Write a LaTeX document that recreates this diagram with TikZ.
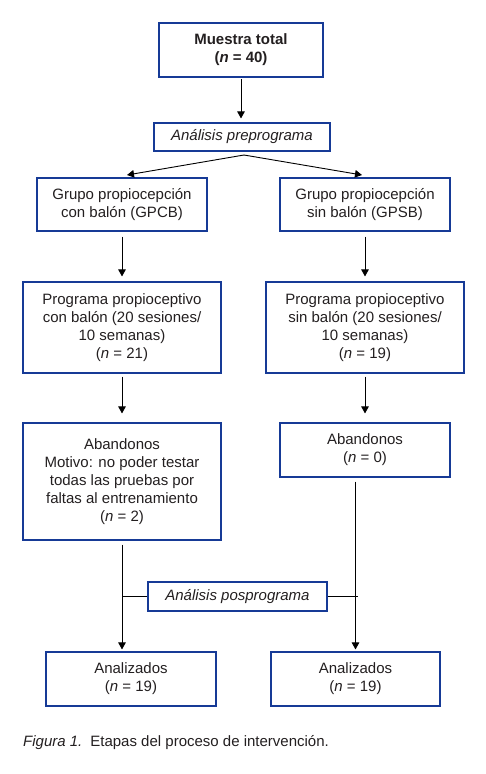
\documentclass[tikz,border=0pt]{standalone}
\usepackage{fontspec}
\setmainfont{Liberation Sans}
\usetikzlibrary{arrows.meta}
\definecolor{boxblue}{RGB}{22,58,150}
\definecolor{txt}{RGB}{35,31,32}
\begin{document}
\begin{tikzpicture}[x=1pt,y=-1pt,
  box/.style={draw=boxblue,line width=1.1pt,inner sep=0pt,align=center,text=txt,
    font=\fontsize{15}{18}\selectfont},
  arr/.style={-{Triangle[length=7pt,width=7.5pt]},line width=0.9pt,draw=black},
  ln/.style={line width=0.9pt,draw=black}]
\useasboundingbox (0,0) rectangle (486,774);
\node[box,minimum width=164pt,minimum height=54pt] (top) at (241,50) {\textbf{Muestra total}\\\textbf{(\textit{n} = 40)}};
\node[box,minimum width=176pt,minimum height=28pt] (pre) at (242,137) {\textit{Análisis preprograma}};
\node[box,minimum width=170pt,minimum height=53pt] (gpcb) at (122,204.5) {Grupo propiocepción\\con balón (GPCB)};
\node[box,minimum width=170pt,minimum height=53pt] (gpsb) at (365,204.5) {Grupo propiocepción\\sin balón (GPSB)};
\node[box,minimum width=198pt,minimum height=91pt] (progL) at (122,327.5) {Programa propioceptivo\\con balón (20 sesiones/\\10 semanas)\\(\textit{n} = 21)};
\node[box,minimum width=198pt,minimum height=91pt] (progR) at (365,327.5) {Programa propioceptivo\\sin balón (20 sesiones/\\10 semanas)\\(\textit{n} = 19)};
\node[box,minimum width=198pt,minimum height=117pt] (abL) at (122,481.5) {Abandonos\\Motivo: no poder testar\\todas las pruebas por\\faltas al entrenamiento\\(\textit{n} = 2)};
\node[box,minimum width=170pt,minimum height=54pt] (abR) at (365,450) {Abandonos\\(\textit{n} = 0)};
\node[box,minimum width=179pt,minimum height=29pt] (pos) at (237.5,596.5) {\textit{Análisis posprograma}};
\node[box,minimum width=170pt,minimum height=54pt] (anL) at (131,679) {Analizados\\(\textit{n} = 19)};
\node[box,minimum width=169pt,minimum height=54pt] (anR) at (355.5,679) {Analizados\\(\textit{n} = 19)};
% connectors
\draw[arr,shorten <=1.5pt,shorten >=4pt] (top.south) -- (top.south |- pre.north);
\coordinate (apex) at (244,155);
\coordinate (tipL) at (127,175);
\coordinate (tipR) at (362,175);
\draw[arr] (apex) -- (tipL);
\draw[arr] (apex) -- (tipR);
\draw[arr,shorten <=5pt,shorten >=5pt] (gpcb.south) -- (gpcb.south |- progL.north);
\draw[arr,shorten <=5pt,shorten >=5pt] (gpsb.south) -- (gpsb.south |- progR.north);
\draw[arr,shorten <=3pt,shorten >=9pt] (progL.south) -- (progL.south |- abL.north);
\draw[arr,shorten <=3pt,shorten >=9pt] (progR.south) -- (progR.south |- abR.north);
\draw[arr,shorten <=4pt,shorten >=2pt] (abL.south) -- (abL.south |- anL.north);
\draw[arr,shorten <=4pt,shorten >=2pt] (anR.north |- abR.south) -- (anR.north);
\draw[ln] (pos.west) -- (pos.west -| abL.south);
\draw[ln] (pos.east) -- ([xshift=2pt]pos.east -| anR.north);
% caption
\node[anchor=base west,inner sep=0pt,text=txt,font=\fontsize{15}{18}\selectfont] (cap) at (23,746) {\textit{Figura 1.}\hspace{8pt}Etapas del proceso de intervención.};
\end{tikzpicture}
\end{document}
